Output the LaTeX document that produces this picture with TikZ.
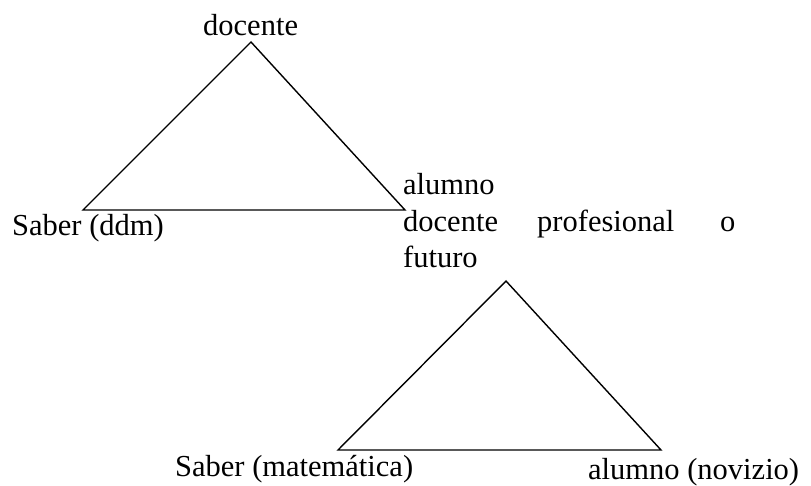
\documentclass[tikz,border=0pt]{standalone}
\usepackage{fontspec}
\setmainfont{Liberation Serif}
\begin{document}
\begin{tikzpicture}[x=1pt,y=-1pt,
  lbl/.style={anchor=base west,inner sep=0pt,font=\fontsize{30.5}{36}\selectfont},
  tri/.style={draw=black,line width=1.4pt,line join=miter}]
\useasboundingbox (0,0) rectangle (811,486);
% top triangle
\coordinate (ta) at (251,42);
\coordinate (tb) at (83,210);
\coordinate (tc) at (405,210);
\draw[tri] (ta) -- (tb) -- (tc) -- cycle;
% bottom triangle
\coordinate (ba) at (506,281);
\coordinate (bb) at (338,450);
\coordinate (bc) at (661,450);
\draw[tri] (ba) -- (bb) -- (bc) -- cycle;
% labels
\node[lbl] (ldoc) at (203,36) {docente};
\node[lbl] (lsab) at (12,236) {Saber (ddm)};
\node[lbl] (lalu) at (403,195) {alumno};
\node[lbl] (ldoc2) at (403,232) {docente};
\node[lbl] (lprof) at (537,232) {profesional};
\node[lbl] (lo) at (720,232) {o};
\node[lbl] (lfut) at (403,268) {futuro};
\node[lbl] (lsabm) at (175,476) {Saber (matemática)};
\node[lbl] (lnov) at (588,479) {alumno (novizio)};
\end{tikzpicture}
\end{document}
